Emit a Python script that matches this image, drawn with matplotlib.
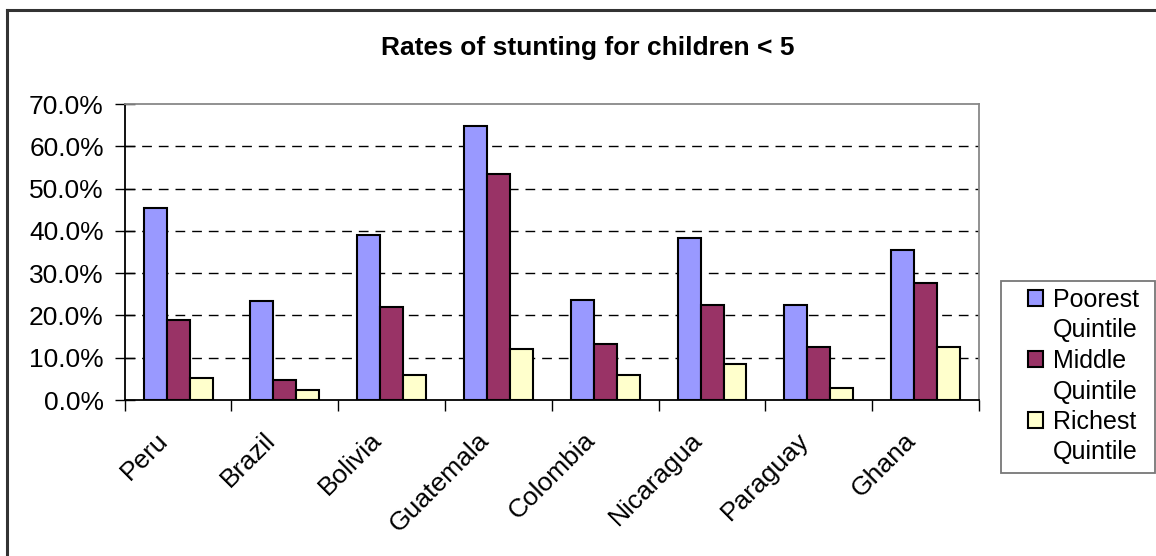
import matplotlib.pyplot as plt
import numpy as np
from matplotlib.lines import Line2D
from matplotlib.patches import Patch, Rectangle
from matplotlib.ticker import FuncFormatter
from matplotlib.transforms import ScaledTranslation

plt.rcParams['font.family'] = ['Liberation Sans', 'DejaVu Sans']

countries = ["Peru", "Brazil", "Bolivia", "Guatemala", "Colombia",
             "Nicaragua", "Paraguay", "Ghana"]
poorest = [45.5, 23.3, 39.1, 64.9, 23.6, 38.2, 22.5, 35.5]
middle = [18.9, 4.7, 22.1, 53.5, 13.2, 22.5, 12.5, 27.7]
richest = [5.2, 2.4, 6.0, 12.1, 5.9, 8.4, 2.8, 12.5]

series = [("Poorest", poorest, "#9999ff"),
          ("Middle", middle, "#993366"),
          ("Richest", richest, "#ffffcc")]

W, H = 1156, 556
fig = plt.figure(figsize=(W / 100, H / 100), dpi=100)
ax = fig.add_axes([124.7 / W, 1 - 400 / H, (979 - 124.7) / W, 296 / H])

x = np.arange(len(countries))
bar_w = 0.215
for i, (label, vals, color) in enumerate(series):
    ax.bar(x + (i - 1) * bar_w, vals, width=bar_w, color=color,
           edgecolor="black", linewidth=1.5, zorder=3)

ax.set_xlim(-0.5, len(countries) - 0.5)
ax.set_ylim(0, 70)
ax.set_yticks(np.arange(0, 71, 10))
ax.yaxis.set_major_formatter(FuncFormatter(lambda v, _: f"{v:.1f}%"))

# category labels at centres, tick marks on the group boundaries
ax.set_xticks(x)
ax.set_xticklabels(countries, rotation=45, ha="right", rotation_mode="anchor")
ax.set_xticks(np.arange(-0.5, len(countries)), minor=True)
ax.tick_params(axis="x", which="major", length=0, pad=20, labelsize=19)
ax.tick_params(axis="x", which="minor", length=8, width=1, direction="out")
ax.tick_params(axis="y", length=14, width=1, direction="inout", labelsize=19, pad=8)
shift = ScaledTranslation(-22 / 100, 0, fig.dpi_scale_trans)
for lbl in ax.get_xticklabels():
    lbl.set_transform(lbl.get_transform() + shift)

for y in range(10, 70, 10):
    ax.axhline(y, color="black", linewidth=1, dashes=(7, 5), zorder=1)

ax.spines["left"].set_color("black")
ax.spines["bottom"].set_color("black")
ax.spines["top"].set_color("#888888")
ax.spines["right"].set_color("#888888")
for s in ax.spines.values():
    s.set_linewidth(1.3)

fig.text(588 / W, 1 - 48 / H, "Rates of stunting for children < 5",
         ha="center", va="center", fontsize=19, fontweight="bold")

# legend: one swatch per quintile, second line without a swatch
handles, labels = [], []
for name, _, color in series:
    handles.append(Patch(facecolor=color, edgecolor="black", linewidth=1.5))
    labels.append(name)
    handles.append(Patch(facecolor="none", edgecolor="none"))
    labels.append("Quintile")
fig.add_artist(Rectangle((1001 / W, 1 - 473 / H), 154 / W, 192 / H,
                         transform=fig.transFigure, facecolor="white",
                         edgecolor="#777777", linewidth=1.3))
leg = fig.legend(handles, labels, loc="upper left",
                 bbox_to_anchor=(1028 / W, 1 - 288 / H),
                 fontsize=18, frameon=False, handlelength=0.6,
                 handleheight=0.6, handletextpad=0.4, labelspacing=0.26,
                 borderpad=0, borderaxespad=0)

# outer chart border, visible on left and top
fig.add_artist(Line2D([7 / W, 7 / W], [0, 1 - 10 / H],
                      transform=fig.transFigure, color="#333333", linewidth=2.2))
fig.add_artist(Line2D([7 / W, 1], [1 - 10 / H, 1 - 10 / H],
                      transform=fig.transFigure, color="#333333", linewidth=2.2))

fig.savefig("out.png", dpi=100)
